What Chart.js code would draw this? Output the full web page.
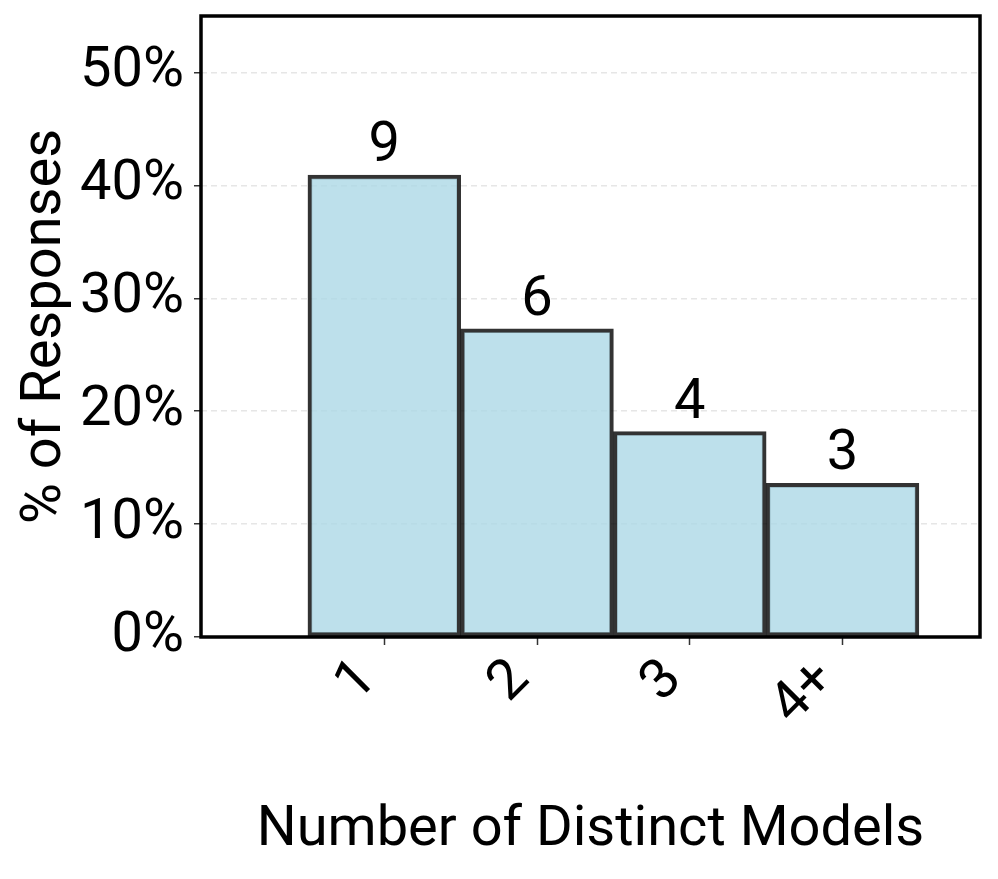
<!DOCTYPE html>
<html lang="en">
<head>
<meta charset="utf-8">
<title>Distinct Models</title>
<script src="https://cdn.jsdelivr.net/npm/chart.js"></script>
<style>
	html, body { margin: 0; padding: 0; background: #fff; }
	#wrap { width: 998px; height: 879px; }
</style>
</head>
<body>
<div id="wrap"><canvas id="myChart" width="998" height="879"></canvas></div>

<script>
	// data
	const categories = ['1', '2', '3', '4+'];
	const positions = [0, 1, 2, 3];
	const counts = [9, 6, 4, 3];
	const percents = [40.9, 27.3, 18.2, 13.6];
	const yTicks = [0, 10, 20, 30, 40, 50];

	const FONT = 'Roboto';
	const SIZE = 56;

	// count labels on top of each bar
	const countLabels = {
		id: 'countLabels',
		afterDatasetsDraw(chart) {
			const ctx = chart.ctx;
			const meta = chart.getDatasetMeta(0);
			ctx.save();
			ctx.font = SIZE + 'px ' + FONT;
			ctx.fillStyle = '#000';
			ctx.textAlign = 'center';
			ctx.textBaseline = 'alphabetic';
			meta.data.forEach((bar, i) => {
				ctx.fillText(String(counts[i]), bar.x, bar.y - 14);
			});
			ctx.restore();
		}
	};

	// black box round the plot
	const frame = {
		id: 'frame',
		afterDraw(chart) {
			const a = chart.chartArea;
			const ctx = chart.ctx;
			ctx.save();
			ctx.strokeStyle = '#000';
			ctx.lineWidth = 3.5;
			ctx.strokeRect(a.left, a.top, a.right - a.left, a.bottom - a.top);
			ctx.restore();
		}
	};

	const data = {
		datasets: [{
			data: positions.map((x, i) => ({ x: x, y: percents[i] })),
			backgroundColor: 'rgba(173, 216, 230, 0.8)',
			borderColor: 'rgba(0, 0, 0, 0.8)',
			borderWidth: 4,
			borderSkipped: false,
			barPercentage: 1,
			categoryPercentage: 1
		}]
	};

	const config = {
		type: 'bar',
		data: data,
		plugins: [countLabels, frame],
		options: {
			responsive: false,
			animation: false,
			layout: { padding: { left: 0, right: 18, top: 16, bottom: 0 } },
			plugins: { legend: { display: false }, tooltip: { enabled: false } },
			scales: {
				x: {
					type: 'linear',
					min: -1.2,
					max: 3.9,
					offset: false,
					afterBuildTicks: (scale) => { scale.ticks = positions.map(v => ({ value: v })); },
					afterFit: (scale) => {
						scale.height = 242;
						scale.paddingLeft = 0;
						scale.paddingRight = 0;
					},
					ticks: {
						autoSkip: false,
						maxRotation: 45,
						minRotation: 45,
						padding: 2,
						labelOffset: -16,
						color: '#000',
						font: { family: FONT, size: SIZE },
						callback: (v) => categories[v]
					},
					grid: {
						offset: false,
						drawOnChartArea: false,
						drawTicks: true,
						tickLength: 8,
						tickColor: '#333',
						tickWidth: 1.5
					},
					border: { display: false },
					title: {
						display: true,
						text: 'Number of Distinct Models',
						color: '#000',
						font: { family: FONT, size: SIZE },
						padding: { top: 0, bottom: 14 }
					}
				},
				y: {
					min: 0,
					max: 55,
					afterBuildTicks: (scale) => { scale.ticks = yTicks.map(v => ({ value: v })); },
					afterFit: (scale) => {
						scale.width = 201;
						scale.paddingTop = 0;
						scale.paddingBottom = 0;
					},
					ticks: {
						padding: 10,
						color: '#000',
						font: { family: FONT, size: SIZE },
						callback: (v) => v + '%'
					},
					grid: {
						color: (c) => c.tick && c.tick.value === 0 ? 'rgba(0,0,0,0)' : '#e6e6e6',
						lineWidth: 1.5,
						drawTicks: true,
						tickLength: 7,
						tickColor: '#333',
						tickWidth: 1.5,
						tickBorderDash: []
					},
					border: { display: false, dash: [6, 4] },
					title: {
						display: true,
						text: '% of Responses',
						color: '#000',
						font: { family: FONT, size: SIZE },
						padding: { top: 12, bottom: 0 }
					}
				}
			}
		}
	};

	const myChart = new Chart(document.getElementById('myChart'), config);
</script>
</body>
</html>
